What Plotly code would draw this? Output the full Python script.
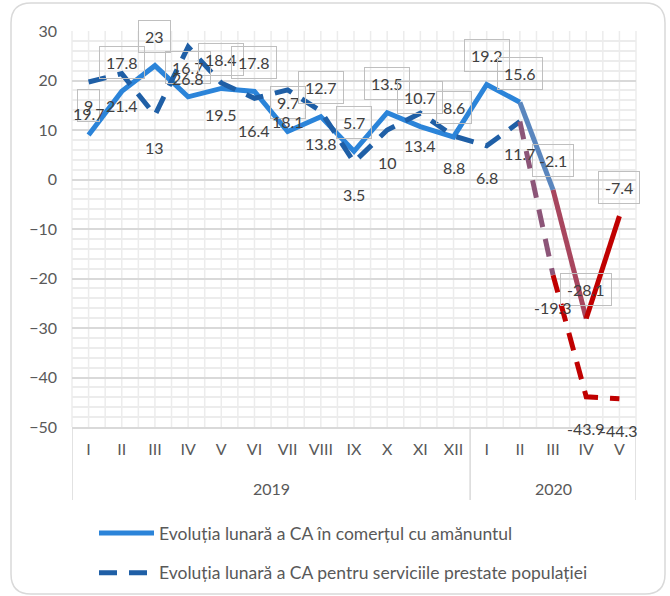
import plotly.graph_objects as go

years = ["2019"] * 12 + ["2020"] * 5
months = ["I", "II", "III", "IV", "V", "VI", "VII", "VIII", "IX", "X", "XI", "XII",
          "I", "II", "III", "IV", "V"]
retail = [9, 17.8, 23, 16.7, 18.4, 17.8, 9.7, 12.7, 5.7, 13.5, 10.7, 8.6,
          19.2, 15.6, -2.1, -28.1, -7.4]
services = [19.7, 21.4, 13, 26.8, 19.5, 16.4, 18.1, 13.8, 3.5, 10, 13.4, 8.8,
            6.8, 11.7, -19.3, -43.9, -44.3]
retail_name = "Evoluția lunară a CA în comerțul cu amănuntul"
services_name = "Evoluția lunară a CA pentru serviciile prestate populației"

FONT = "Lato, 'Open Sans', sans-serif"
TXT = "#595959"
W, H = 670, 596
ML, MR, MT, MB = 72, 34, 31, 169
PW, PH = W - ML - MR, H - MT - MB

n = len(months)
pos = list(range(n))  # category positions on the axis

fig = go.Figure()

# segments: (start, end, color)
retail_segs = [(0, 13, "#2B84D9"), (13, 14, "#5A86BE"), (14, 15, "#A8465E"), (15, 16, "#C00000")]
service_segs = [(0, 13, "#1F5FA6"), (13, 14, "#8C5578"), (14, 16, "#C00000")]

def add_segs(values, segs, name, dash, group):
    for k, (a, b, col) in enumerate(segs):
        fig.add_trace(go.Scatter(
            x=pos[a:b + 1], y=values[a:b + 1],
            mode="lines", name=name, legendgroup=group, showlegend=(k == 0),
            line=dict(color=col, width=5, dash=dash),
            hoverinfo="skip"))

add_segs(retail, retail_segs, retail_name, "solid", "r")
add_segs(services, service_segs, services_name, "18px,12px", "s")

def px2x(px):
    return (px - ML) / PW

def py2y(py):
    return (H - MB - py) / PH

annotations = []
for i, v in enumerate(retail):
    annotations.append(dict(x=pos[i], y=v, xref="x", yref="y", text=f"{v:g}", showarrow=False,
                            yshift=29, bordercolor="#bfbfbf", borderwidth=1, borderpad=6,
                            font=dict(family=FONT, size=16, color="#404040")))
for i, v in enumerate(services):
    annotations.append(dict(x=pos[i], y=v, xref="x", yref="y", text=f"{v:g}", showarrow=False,
                            yshift=-32, font=dict(family=FONT, size=16, color="#404040")))

# year group labels
groups = []
for i, yv in enumerate(years):
    if not groups or groups[-1][0] != yv:
        groups.append([yv, i, i])
    else:
        groups[-1][2] = i
for yv, a, b in groups:
    annotations.append(dict(x=(a + b) / 2, y=py2y(488), xref="x", yref="paper", text=yv,
                            showarrow=False, yanchor="middle",
                            font=dict(family=FONT, size=16, color=TXT)))

shapes = []
for j in range(2 * n + 1):
    shapes.append(dict(type="line", xref="paper", yref="paper", x0=j / (2 * n), x1=j / (2 * n),
                       y0=0, y1=1, layer="below", line=dict(color="#ececec", width=1.5)))

# group dividers below the axis
div_pos = [groups[0][1] - 0.5] + [g[2] + 0.5 for g in groups]
for d in div_pos:
    shapes.append(dict(type="line", xref="x", yref="paper", x0=d, x1=d,
                       y0=0, y1=py2y(500), line=dict(color="#d9d9d9", width=1.5)))

# rounded chart border
L, R, T, B, r = 11, 665, 3, 594, 20
path = (f"M {px2x(L + r)},{py2y(T)} L {px2x(R - r)},{py2y(T)} "
        f"Q {px2x(R)},{py2y(T)} {px2x(R)},{py2y(T + r)} "
        f"L {px2x(R)},{py2y(B - r)} Q {px2x(R)},{py2y(B)} {px2x(R - r)},{py2y(B)} "
        f"L {px2x(L + r)},{py2y(B)} Q {px2x(L)},{py2y(B)} {px2x(L)},{py2y(B - r)} "
        f"L {px2x(L)},{py2y(T + r)} Q {px2x(L)},{py2y(T)} {px2x(L + r)},{py2y(T)} Z")
shapes.append(dict(type="path", xref="paper", yref="paper", path=path,
                   line=dict(color="#d9d9d9", width=1.5), layer="below"))

fig.update_layout(
    width=W, height=H,
    margin=dict(l=ML, r=MR, t=MT, b=MB, autoexpand=False),
    paper_bgcolor="white", plot_bgcolor="white",
    font=dict(family=FONT, size=16, color=TXT),
    xaxis=dict(range=[-0.5, n - 0.5], tickvals=pos, ticktext=months, showgrid=False,
               zeroline=False, showline=True, linecolor="#d9d9d9", linewidth=1.5,
               ticks="", ticklabelstandoff=7, automargin=False,
               tickfont=dict(family=FONT, size=16, color=TXT)),
    yaxis=dict(range=[-50, 30], dtick=10, showgrid=True, gridcolor="#d9d9d9", gridwidth=1.5,
               zeroline=False, ticklabelstandoff=14, automargin=False,
               minor=dict(dtick=2, showgrid=True, gridcolor="#ececec", gridwidth=1.5),
               tickfont=dict(family=FONT, size=16, color=TXT)),
    legend=dict(orientation="v", x=px2x(94), y=py2y(515), xanchor="left", yanchor="top",
                font=dict(family=FONT, size=17.5, color=TXT), itemwidth=55, tracegroupgap=14,
                bgcolor="rgba(0,0,0,0)"),
    annotations=annotations,
    shapes=shapes,
    showlegend=True,
)

fig.write_html("out.html", post_script="document.body.style.margin='0';",
               config={"displayModeBar": False})
